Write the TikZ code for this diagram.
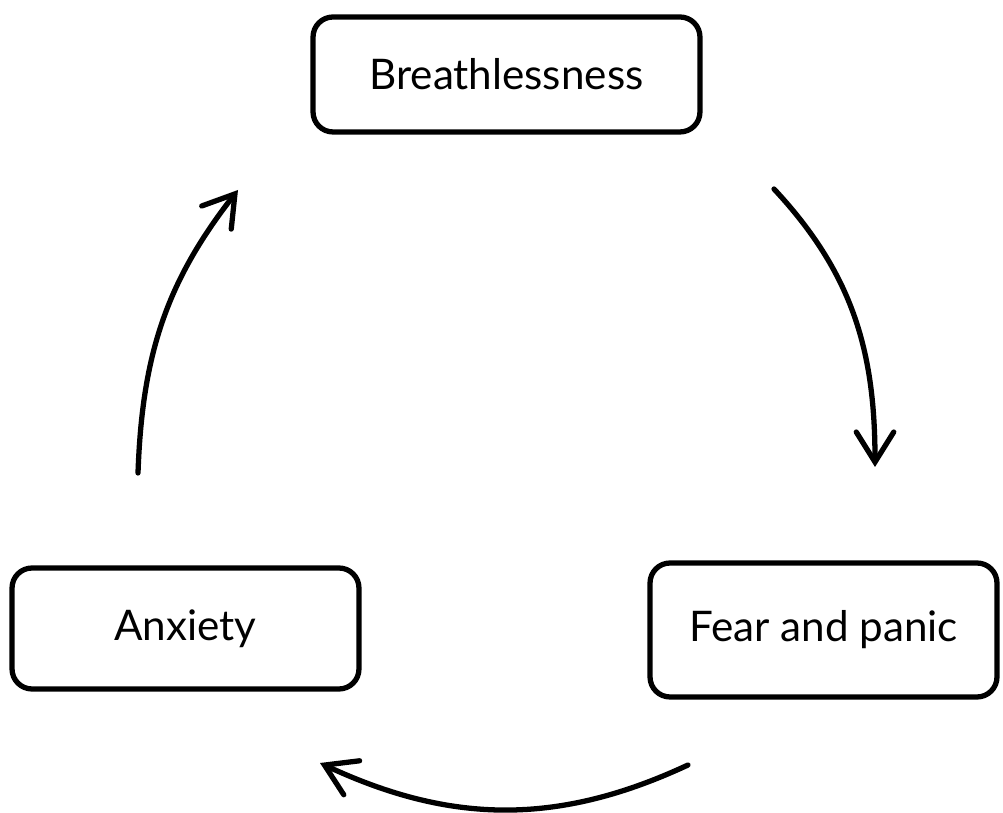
\documentclass[tikz,border=0pt]{standalone}
\usepackage{fontspec}
\setmainfont{Lato}
\usetikzlibrary{arrows.meta}

\tikzset{
  stagebox/.style={draw, line width=3pt, rounded corners=0.4cm, align=center,
    font=\fontsize{24}{28}\selectfont},
  cycle arrow/.style={line width=3pt, line cap=round,
    -{Straight Barb[length=0.6cm, width=0.75cm, line cap=round]}}
}

\begin{document}
\begin{tikzpicture}[x=0.02cm, y=0.02cm]
    \useasboundingbox (0,0) rectangle (1003,813);

    % Stages of the cycle
    \node[stagebox, minimum width=7.74cm, minimum height=2.3cm] (breath) at (506.5,738.5) {Breathlessness};
    \node[stagebox, minimum width=6.94cm, minimum height=2.68cm] (fear) at (823.5,183) {Fear and panic};
    \node[stagebox, minimum width=6.94cm, minimum height=2.42cm] (anxiety) at (185.5,184.5) {Anxiety};

    % Arrow ends
    \coordinate (breath-out) at (774,624);
    \coordinate (fear-in) at (875,346);
    \coordinate (fear-out) at (688,48);
    \coordinate (anxiety-in) at (320,50);
    \coordinate (anxiety-out) at (138,340);
    \coordinate (breath-in) at (238,623);

    % Arrows
    \draw[cycle arrow] (breath-out) to[out=-47, in=90] (fear-in);
    \draw[cycle arrow] (fear-out) to[out=205, in=-25] (anxiety-in);
    \draw[cycle arrow] (anxiety-out) to[out=88, in=232] (breath-in);
\end{tikzpicture}
\end{document}
